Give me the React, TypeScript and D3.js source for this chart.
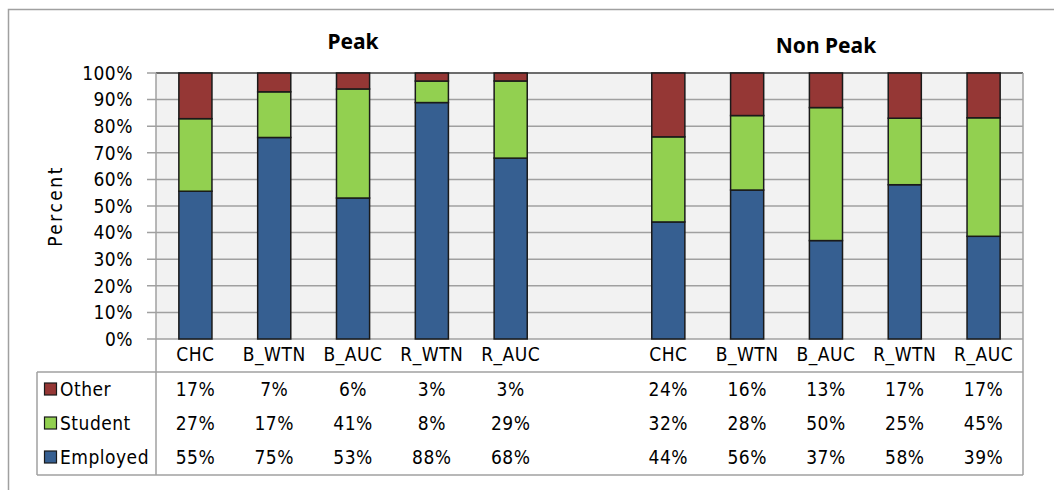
import React from "react";
import * as d3 from "d3";

const groups = ["Peak", "Non Peak"];
const categories = ["CHC", "B_WTN", "B_AUC", "R_WTN", "R_AUC"];
const seriesNames = ["Employed", "Student", "Other"];
const employedPeak = [55, 75, 53, 88, 68];
const studentPeak = [27, 17, 41, 8, 29];
const otherPeak = [17, 7, 6, 3, 3];
const employedNonPeak = [44, 56, 37, 58, 39];
const studentNonPeak = [32, 28, 50, 25, 45];
const otherNonPeak = [24, 16, 13, 17, 17];
const yTicks = [0, 10, 20, 30, 40, 50, 60, 70, 80, 90, 100];

const colors: Record<string, string> = {
  Employed: "#365f91",
  Student: "#92d050",
  Other: "#953735",
};

type Row = { key: string; label: string; Employed: number; Student: number; Other: number };

const rows: Row[] = [];
categories.forEach((c, i) =>
  rows.push({ key: "P_" + c, label: c, Employed: employedPeak[i], Student: studentPeak[i], Other: otherPeak[i] })
);
rows.push({ key: "gap", label: "", Employed: 0, Student: 0, Other: 0 });
categories.forEach((c, i) =>
  rows.push({ key: "N_" + c, label: c, Employed: employedNonPeak[i], Student: studentNonPeak[i], Other: otherNonPeak[i] })
);

const W = 1054;
const H = 490;
const left = 156;
const right = 1023;
const top = 73;
const bottom = 339;
const tableTop = 372;
const tableBottom = 475;
const tableLeft = 37;
const rowY: Record<string, number> = { Other: 389, Student: 423, Employed: 457 };

const font = "'DejaVu Sans Condensed', 'DejaVu Sans', sans-serif";
const fs = 19;
const ls = 0.5;

export default function App() {
  const x = d3.scaleBand<string>().domain(rows.map((r) => r.key)).range([left, right]).padding(0);
  const y = d3.scaleLinear().domain([0, 1]).range([bottom, top]);
  const stack = d3
    .stack<Row>()
    .keys(seriesNames)
    .offset((series, order) => {
      d3.stackOffsetExpand(series, order);
      for (const s of series) for (const p of s) if (isNaN(p[0]) || isNaN(p[1])) { p[0] = 0; p[1] = 0; }
    });
  const stacked = stack(rows);
  const barW = x.bandwidth() * 0.42;
  const gridColor = "#a0a0a0";
  const groupCenters = [
    (x("P_CHC")! + x("P_R_AUC")! + x.bandwidth()) / 2,
    (x("N_CHC")! + x("N_R_AUC")! + x.bandwidth()) / 2,
  ];

  return (
    <svg width={W} height={H} style={{ position: "absolute", left: 0, top: 0, display: "block", background: "#fff" }}>
      <rect x={8.5} y={9.5} width={1100} height={600} fill="#fff" stroke="#a0a0a0" strokeWidth={1.5} />
      {groups.map((g, i) => (
        <text key={g} x={groupCenters[i]} y={i === 0 ? 49 : 53} textAnchor="middle" fontFamily="'Noto Sans', sans-serif" fontWeight="bold" fontSize={21} fill="#000">
          {g}
        </text>
      ))}
      <rect x={left} y={top} width={right - left} height={bottom - top} fill="#f2f2f2" />
      {yTicks.map((t) => (
        <g key={t}>
          <line x1={left - 9} x2={right} y1={y(t / 100)} y2={y(t / 100)} stroke={gridColor} strokeWidth={1.5} />
          <text x={133} y={y(t / 100)} dy="0.36em" textAnchor="end" fontFamily={font} fontSize={fs} letterSpacing={ls} fill="#000">
            {t}%
          </text>
        </g>
      ))}
      <line x1={left} x2={right} y1={top} y2={top} stroke="#555" strokeWidth={1.5} />
      {stacked.map((s) => (
        <g key={s.key}>
          {s.map((d, i) =>
            rows[i].key === "gap" ? null : (
              <rect
                key={rows[i].key}
                x={x(rows[i].key)! + (x.bandwidth() - barW) / 2}
                y={y(d[1])}
                width={barW}
                height={y(d[0]) - y(d[1])}
                fill={colors[s.key]}
                stroke="#1a1a1a"
                strokeWidth={1.5}
              />
            )
          )}
        </g>
      ))}
      <line x1={left} x2={left} y1={top} y2={tableBottom} stroke={gridColor} strokeWidth={1.5} />
      <line x1={right} x2={right} y1={top} y2={tableBottom} stroke={gridColor} strokeWidth={1.5} />
      <line x1={tableLeft} x2={right} y1={tableTop} y2={tableTop} stroke={gridColor} strokeWidth={1.5} />
      <line x1={tableLeft} x2={right} y1={tableBottom} y2={tableBottom} stroke={gridColor} strokeWidth={1.5} />
      <line x1={tableLeft} x2={tableLeft} y1={tableTop} y2={tableBottom} stroke={gridColor} strokeWidth={1.5} />
      {rows.map((r) =>
        r.key === "gap" ? null : (
          <g key={r.key}>
            <text x={x(r.key)! + x.bandwidth() / 2} y={354} dy="0.36em" textAnchor="middle" fontFamily={font} fontSize={fs} letterSpacing={ls} fill="#000">
              {r.label}
            </text>
            {seriesNames.map((sn) => (
              <text key={sn} x={x(r.key)! + x.bandwidth() / 2} y={rowY[sn]} dy="0.36em" textAnchor="middle" fontFamily={font} fontSize={fs} letterSpacing={ls} fill="#000">
                {(r as any)[sn]}%
              </text>
            ))}
          </g>
        )
      )}
      {seriesNames.map((sn) => (
        <g key={sn}>
          <rect x={44.5} y={rowY[sn] - 6} width={12} height={12} fill={colors[sn]} stroke="#1a1a1a" strokeWidth={1.2} />
          <text x={60} y={rowY[sn]} dy="0.36em" fontFamily={font} fontSize={fs} letterSpacing={ls} fill="#000">
            {sn}
          </text>
        </g>
      ))}
      <text
        transform={`translate(62,${(top + bottom) / 2}) rotate(-90)`}
        textAnchor="middle"
        fontFamily={font}
        fontSize={fs}
        letterSpacing={2.5}
        fill="#000"
      >
        Percent
      </text>
    </svg>
  );
}
